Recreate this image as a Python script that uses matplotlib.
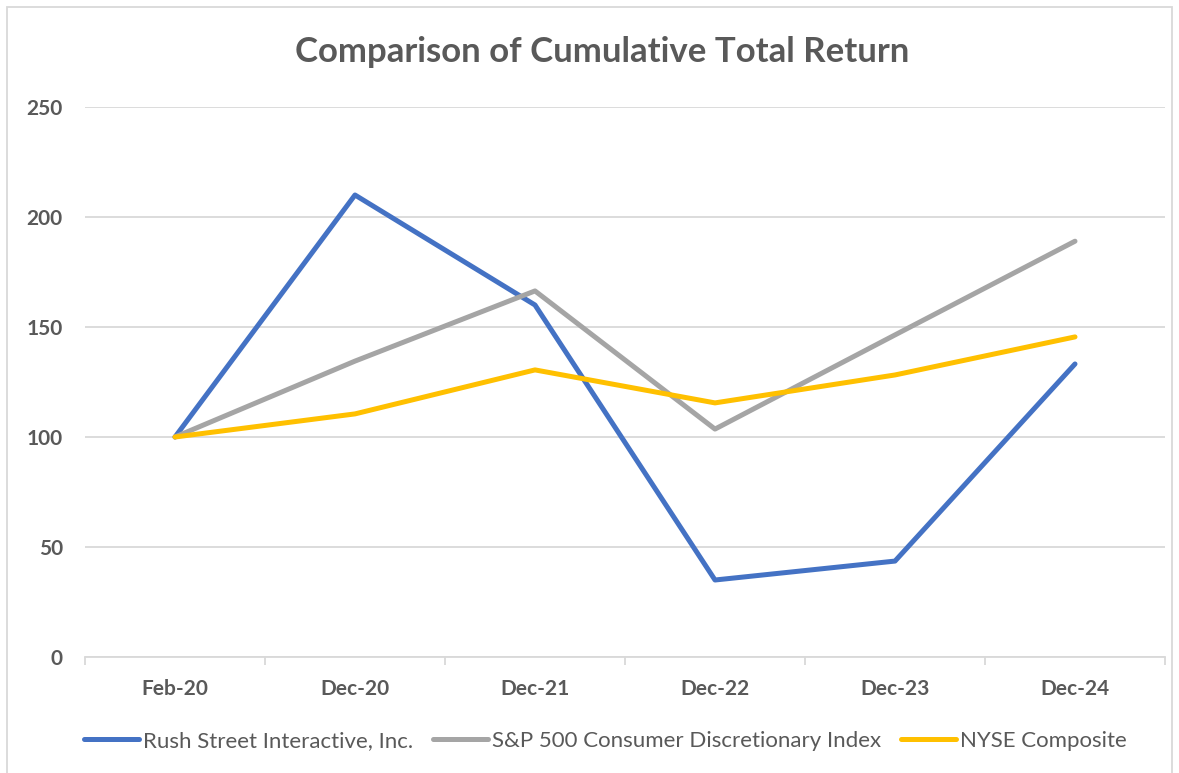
import matplotlib.pyplot as plt
from matplotlib.lines import Line2D

plt.rcParams['font.family'] = ['Lato', 'DejaVu Sans']

# Dados do gráfico
periodos = ['Feb-20', 'Dec-20', 'Dec-21', 'Dec-22', 'Dec-23', 'Dec-24']
rush_street = [100, 210, 160, 35, 43.6, 133.2]
sp500_discr = [100, 134.5, 166.4, 103.6, 146.4, 189]
nyse_comp = [100, 110.5, 130.5, 115.5, 128.2, 145.5]
nomes = ['Rush Street Interactive, Inc.', 'S&P 500 Consumer Discretionary Index', 'NYSE Composite']
cores = ['#4472C4', '#A5A5A5', '#FFC000']
yticks = [0, 50, 100, 150, 200, 250]

COR_TEXTO = '#595959'
COR_GRADE = '#D9D9D9'

W, H = 1179, 773
fig = plt.figure(figsize=(W / 100, H / 100), dpi=100)
ax = fig.add_axes([85 / W, (H - 657) / H, (1165 - 85) / W, (657 - 107) / H])

x = list(range(len(periodos)))
for serie, nome, cor in zip([rush_street, sp500_discr, nyse_comp], nomes, cores):
    ax.plot(x, serie, color=cor, linewidth=3.6, solid_capstyle='round', solid_joinstyle='round', label=nome, zorder=3)

ax.set_xlim(-0.5, len(periodos) - 0.5)
ax.set_ylim(0, 250)
ax.set_yticks(yticks)
ax.set_yticklabels([str(v) for v in yticks], fontsize=15, fontweight='bold', color=COR_TEXTO)
ax.tick_params(axis='y', length=0, pad=16)
ax.yaxis.grid(True, color=COR_GRADE, linewidth=1.3)
ax.set_axisbelow(True)

ax.set_xticks(x)
ax.set_xticklabels(periodos, fontsize=15, fontweight='bold', color=COR_TEXTO)
ax.set_xticks([i - 0.5 for i in range(len(periodos) + 1)], minor=True)
ax.tick_params(axis='x', which='major', length=0, pad=16)
ax.tick_params(axis='x', which='minor', length=6, color=COR_GRADE, width=1.3)

for lado in ['top', 'right', 'left']:
    ax.spines[lado].set_visible(False)
ax.spines['bottom'].set_color(COR_GRADE)
ax.spines['bottom'].set_linewidth(1.3)

fig.text(602 / W, 1 - 52 / H, 'Comparison of Cumulative Total Return', ha='center', va='center',
         fontsize=25, fontweight='bold', color=COR_TEXTO)

handles = [Line2D([0], [0], color=c, linewidth=3.6, solid_capstyle='round') for c in cores]
fig.legend(handles, nomes, loc='center', bbox_to_anchor=(605 / W, 1 - 741 / H), ncol=3, frameon=False,
           fontsize=16, labelcolor=COR_TEXTO, handlelength=2.5, handletextpad=0.15, columnspacing=0.9)

# Borda externa
borda = plt.Rectangle((7 / W, -0.01), (1172 - 7) / W, 1 - 7 / H + 0.01, transform=fig.transFigure,
                      fill=False, edgecolor=COR_GRADE, linewidth=1.3)
fig.patches.append(borda)

plt.savefig('out.png', dpi=100)
plt.close()
